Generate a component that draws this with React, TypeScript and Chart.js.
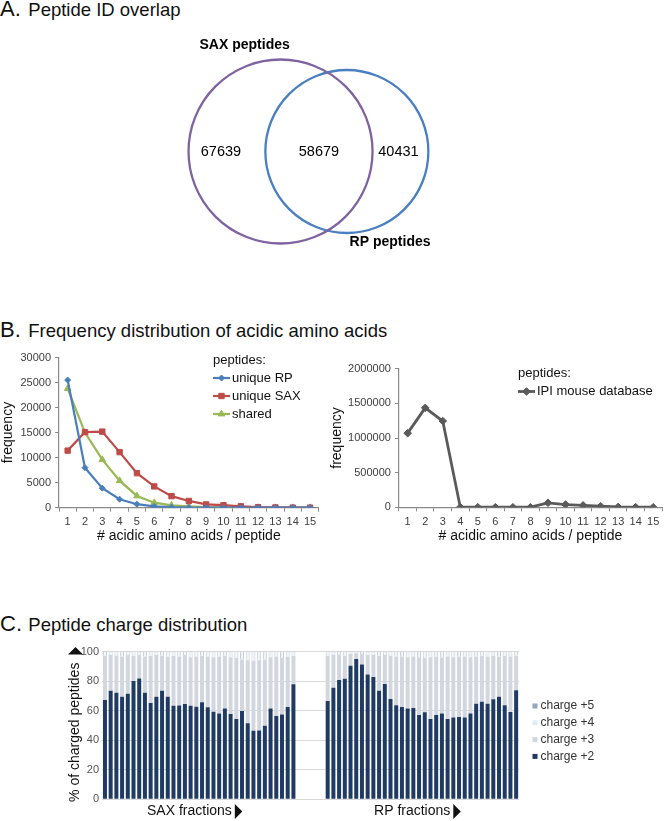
import React, { useEffect, useRef } from "react";
import { Chart, registerables } from "chart.js";

Chart.register(...registerables);

const FONT = '"Liberation Sans", Arial, Helvetica, sans-serif';

// ---------------- A. Peptide ID overlap (Venn) ----------------
const vennSetNames = ["SAX peptides", "RP peptides"];
const saxOnlyCount = 67639;
const sharedCount = 58679;
const rpOnlyCount = 40431;

// ---------------- B. Frequency distribution ----------------
const acidicCategories = ["1", "2", "3", "4", "5", "6", "7", "8", "9", "10", "11", "12", "13", "14", "15"];
const uniqueRP = [25500, 8000, 3900, 1700, 700, 250, 100, 40, 15, 5, 2, 1, 0, 0, 0];
const uniqueSAX = [11400, 15100, 15200, 11100, 6900, 4250, 2300, 1350, 650, 500, 280, 100, 50, 20, 10];
const sharedPeps = [23800, 15000, 9600, 5400, 2350, 1000, 480, 250, 120, 60, 30, 15, 5, 2, 1];
const ipiMouseDb = [1070000, 1435000, 1245000, 2000, 1500, 1000, 1000, 1500, 65000, 40000, 28000, 16000, 5000, 2000, 1000];
const leftFreqTicks = [0, 5000, 10000, 15000, 20000, 25000, 30000];
const rightFreqTicks = [0, 500000, 1000000, 1500000, 2000000];

// ---------------- C. Peptide charge distribution ----------------
const saxCharge2 = [67.2, 73.5, 72.2, 69.5, 71.5, 80.1, 81.9, 72.2, 65.2, 69.5, 73.5, 69.5, 63.4, 63.6, 64.5, 63.4, 62.7, 65.7, 62.3, 59.3, 58.2, 61.6, 57.8, 54.4, 59.8, 51.5, 46.4, 46.6, 49.8, 61.6, 56.4, 57.5, 62.5, 77.9];
const saxCharge3 = [30.1, 24.3, 25.1, 27.3, 26.3, 17.2, 15.9, 24.6, 32.1, 28.3, 23.8, 27.3, 33.9, 33.2, 33.3, 32.8, 34.1, 31.6, 34.5, 36.9, 38.6, 35.7, 38.4, 41.3, 34.9, 42.7, 47.3, 47.6, 44.9, 34.7, 40.4, 38.2, 34.3, 19.4];
const saxCharge4 = [2.5, 2.0, 2.5, 3.0, 2.0, 2.5, 2.0, 3.0, 2.5, 2.0, 2.5, 3.0, 2.5, 3.0, 2.0, 3.5, 3.0, 2.5, 3.0, 3.5, 3.0, 2.5, 3.5, 4.0, 5.0, 5.5, 6.0, 5.5, 5.0, 3.5, 3.0, 4.0, 3.0, 2.5];
const saxCharge5 = [0.2, 0.2, 0.2, 0.2, 0.2, 0.2, 0.2, 0.2, 0.2, 0.2, 0.2, 0.2, 0.2, 0.2, 0.2, 0.3, 0.2, 0.2, 0.2, 0.3, 0.2, 0.2, 0.3, 0.3, 0.3, 0.3, 0.3, 0.3, 0.3, 0.2, 0.2, 0.3, 0.2, 0.2];

const rpCharge2 = [66.6, 75.6, 80.8, 81.7, 90.5, 95.0, 91.4, 84.6, 82.8, 73.5, 78.1, 67.9, 63.8, 62.5, 61.6, 61.8, 57.1, 58.9, 54.4, 57.1, 58.2, 54.4, 55.5, 55.7, 55.5, 58.2, 64.7, 66.1, 64.7, 67.7, 69.5, 63.8, 59.1, 73.8];
const rpCharge3 = [30.7, 22.2, 17.0, 15.6, 7.9, 3.9, 7.0, 13.2, 15.0, 23.8, 19.7, 29.4, 33.0, 34.3, 34.7, 35.0, 39.2, 36.9, 41.9, 39.7, 38.1, 42.4, 40.8, 41.1, 41.3, 38.1, 32.1, 31.2, 32.1, 29.6, 27.3, 33.5, 37.7, 23.5];
const rpCharge4 = [2.5, 2.0, 2.0, 2.5, 1.5, 1.0, 1.5, 2.0, 2.0, 2.5, 2.0, 2.5, 3.0, 3.0, 3.5, 3.0, 3.5, 4.0, 3.5, 3.0, 3.5, 3.0, 3.5, 3.0, 3.0, 3.5, 3.0, 2.5, 3.0, 2.5, 3.0, 2.5, 3.0, 2.5];
const rpCharge5 = [0.2, 0.2, 0.2, 0.2, 0.1, 0.1, 0.1, 0.2, 0.2, 0.2, 0.2, 0.2, 0.2, 0.2, 0.2, 0.2, 0.2, 0.2, 0.2, 0.2, 0.2, 0.2, 0.2, 0.2, 0.2, 0.2, 0.2, 0.2, 0.2, 0.2, 0.2, 0.2, 0.2, 0.2];

const percentTickLabels = [0, 20, 40, 60, 80, 100];
const percentGridStep = 10;
const chargeLabels = ["charge +2", "charge +3", "charge +4", "charge +5"];
const groupNames = ["SAX fractions", "RP fractions"];
const GAP_SLOTS = 5;

// ---------------- styles ----------------
const COLORS = {
  sax: "#7f63a1",
  rp: "#4a7fc1",
  blue: "#4a7ebb",
  red: "#be4b48",
  green: "#98b954",
  gray: "#5a5a5a",
  axis: "#8a8a8a",
  tick: "#404040",
  c2: "#1f3b63",
  c3: "#d2d7df",
  c4: "#f1f5fa",
  c4border: "#c6cdd8",
  c5: "#b3c0d4",
};

function drawMarker(ctx: CanvasRenderingContext2D, style: string, x: number, y: number, r: number, color: string) {
  ctx.fillStyle = color;
  ctx.strokeStyle = color;
  ctx.lineWidth = 1;
  ctx.beginPath();
  if (style === "rect") {
    const s = r * Math.SQRT1_2;
    ctx.rect(x - s, y - s, 2 * s, 2 * s);
  } else if (style === "triangle") {
    for (let k = 0; k < 3; k++) {
      const a = (k * 2 * Math.PI) / 3;
      const px = x + Math.sin(a) * r;
      const py = y - Math.cos(a) * r;
      if (k === 0) ctx.moveTo(px, py);
      else ctx.lineTo(px, py);
    }
    ctx.closePath();
  } else {
    ctx.moveTo(x, y - r);
    ctx.lineTo(x + r, y);
    ctx.lineTo(x, y + r);
    ctx.lineTo(x - r, y);
    ctx.closePath();
  }
  ctx.fill();
  ctx.stroke();
}

// ---------- Venn geometry from data ----------
function overlapArea(r1: number, r2: number, d: number) {
  if (d >= r1 + r2) return 0;
  if (d <= Math.abs(r1 - r2)) return Math.PI * Math.min(r1, r2) ** 2;
  const a1 = Math.acos((d * d + r1 * r1 - r2 * r2) / (2 * d * r1));
  const a2 = Math.acos((d * d + r2 * r2 - r1 * r1) / (2 * d * r2));
  const k = Math.sqrt((-d + r1 + r2) * (d + r1 - r2) * (d - r1 + r2) * (d + r1 + r2));
  return r1 * r1 * a1 + r2 * r2 * a2 - 0.5 * k;
}

const VENN_PX_PER_SQRT = 0.2589; // radius scale
function vennLayout(cx: number, cy: number) {
  const nSax = saxOnlyCount + sharedCount;
  const nRp = rpOnlyCount + sharedCount;
  const r1 = VENN_PX_PER_SQRT * Math.sqrt(nSax);
  const r2 = VENN_PX_PER_SQRT * Math.sqrt(nRp);
  const target = Math.PI * VENN_PX_PER_SQRT * VENN_PX_PER_SQRT * sharedCount;
  let lo = Math.abs(r1 - r2);
  let hi = r1 + r2;
  for (let i = 0; i < 60; i++) {
    const mid = (lo + hi) / 2;
    if (overlapArea(r1, r2, mid) > target) lo = mid;
    else hi = mid;
  }
  const d = (lo + hi) / 2;
  return [
    { x: cx - d / 2, y: cy, r: r1 },
    { x: cx + d / 2, y: cy, r: r2 },
  ];
}

function useChart(ref: React.RefObject<HTMLCanvasElement | null>, make: () => any) {
  useEffect(() => {
    if (!ref.current) return;
    const chart = new Chart(ref.current, make());
    return () => chart.destroy();
  }, []);
}

// ---------------- Venn ----------------
const VENN_W = 664;
const VENN_H = 240;
function VennChart() {
  const ref = useRef<HTMLCanvasElement>(null);
  useChart(ref, () => {
    const [sax, rp] = vennLayout(313.7, 126.5);
    return {
      type: "bubble",
      data: {
        datasets: [
          { label: vennSetNames[0], data: [sax], borderColor: COLORS.sax, backgroundColor: "rgba(0,0,0,0)", borderWidth: 2.3 },
          { label: vennSetNames[1], data: [rp], borderColor: COLORS.rp, backgroundColor: "rgba(0,0,0,0)", borderWidth: 2.3 },
        ],
      },
      options: {
        responsive: false,
        animation: false,
        events: [],
        layout: { padding: 0, autoPadding: false },
        scales: {
          x: { type: "linear", min: 0, max: VENN_W, display: false },
          y: { type: "linear", min: 0, max: VENN_H, reverse: true, display: false },
        },
        plugins: { legend: { display: false }, tooltip: { enabled: false } },
      },
      plugins: [
        {
          id: "vennText",
          afterDraw(chart: any) {
            const ctx = chart.ctx as CanvasRenderingContext2D;
            const a = chart.getDatasetMeta(0).data[0];
            const b = chart.getDatasetMeta(1).data[0];
            const ra = a.options.radius;
            const rb = b.options.radius;
            ctx.save();
            ctx.fillStyle = "#000";
            ctx.textAlign = "center";
            ctx.textBaseline = "middle";
            ctx.font = `14.5px ${FONT}`;
            const cy = (a.y + b.y) / 2;
            ctx.fillText(String(saxOnlyCount), (a.x - ra + (b.x - rb)) / 2 - 6, cy);
            ctx.fillText(String(sharedCount), (b.x - rb + (a.x + ra)) / 2, cy);
            ctx.fillText(String(rpOnlyCount), (a.x + ra + (b.x + rb)) / 2 - 2, cy);
            ctx.font = `bold 14px ${FONT}`;
            ctx.fillText(chart.data.datasets[0].label, a.x - 0.39 * ra, a.y - ra - 14.5);
            ctx.fillText(chart.data.datasets[1].label, b.x + 0.53 * rb, b.y + rb + 9);
            ctx.restore();
          },
        },
      ],
    };
  });
  return (
    <canvas
      ref={ref}
      width={VENN_W}
      height={VENN_H}
      style={{ position: "absolute", left: 0, top: 25, width: VENN_W, height: VENN_H }}
    />
  );
}

// ---------------- B charts ----------------
function lineDs(label: string, data: number[], color: string, pointStyle: string, radius: number, width: number) {
  return {
    label,
    data,
    borderColor: color,
    backgroundColor: color,
    pointBackgroundColor: color,
    pointBorderColor: color,
    pointBorderWidth: 1,
    pointStyle,
    pointRadius: radius,
    borderWidth: width,
    tension: 0,
    fill: false,
  };
}

function legendPlugin(id: string, title: string, x: number, y: number, rowGap: number) {
  return {
    id,
    afterDraw(chart: any) {
      const ctx = chart.ctx as CanvasRenderingContext2D;
      ctx.save();
      ctx.font = `13px ${FONT}`;
      ctx.textBaseline = "middle";
      ctx.textAlign = "left";
      ctx.fillStyle = "#111";
      ctx.fillText(title, x, y);
      chart.data.datasets.forEach((ds: any, i: number) => {
        const yy = y + (i + 1) * rowGap;
        ctx.strokeStyle = ds.borderColor;
        ctx.lineWidth = ds.borderWidth;
        ctx.beginPath();
        ctx.moveTo(x, yy);
        ctx.lineTo(x + 17, yy);
        ctx.stroke();
        drawMarker(ctx, ds.pointStyle, x + 8.5, yy, ds.pointRadius, ds.pointBackgroundColor);
        ctx.fillStyle = "#111";
        ctx.fillText(ds.label, x + 19, yy);
      });
      ctx.restore();
    },
  };
}

function freqOptions(ticks: number[], yWidth: number, xHeight: number, padTop: number, padRight: number) {
  const tickFont = { family: FONT, size: 11 };
  const titleFont = { family: FONT, size: 14 };
  return {
    responsive: false,
    animation: false,
    events: [],
    layout: { padding: { top: padTop, right: padRight, left: 0, bottom: 0 }, autoPadding: false },
    plugins: { legend: { display: false }, tooltip: { enabled: false } },
    scales: {
      x: {
        type: "category",
        offset: true,
        grid: { display: true, offset: true, drawOnChartArea: false, drawTicks: true, tickLength: 4, color: COLORS.axis },
        border: { display: true, color: COLORS.axis, width: 1.2 },
        ticks: { font: tickFont, color: COLORS.tick, padding: 4, autoSkip: false, maxRotation: 0 },
        title: { display: true, text: "# acidic amino acids / peptide", font: titleFont, color: "#111", padding: 0 },
        afterFit: (s: any) => {
          s.height = xHeight;
        },
      },
      y: {
        type: "linear",
        min: ticks[0],
        max: ticks[ticks.length - 1],
        afterBuildTicks: (s: any) => {
          s.ticks = ticks.map((v) => ({ value: v }));
        },
        grid: { display: true, drawOnChartArea: false, drawTicks: true, tickLength: 4, color: COLORS.axis },
        border: { display: true, color: COLORS.axis, width: 1.2 },
        ticks: { font: tickFont, color: COLORS.tick, padding: 4, callback: (v: any) => String(v) },
        title: { display: true, text: "frequency", font: titleFont, color: "#111", padding: 0 },
        afterFit: (s: any) => {
          s.width = yWidth;
        },
      },
    },
  };
}

const B_TOP = 340;
const B_H = 205;
function FreqLeft() {
  const ref = useRef<HTMLCanvasElement>(null);
  useChart(ref, () => ({
    type: "line",
    data: {
      labels: acidicCategories,
      datasets: [
        lineDs("unique RP", uniqueRP, COLORS.blue, "rectRot", 3, 2.2),
        lineDs("unique SAX", uniqueSAX, COLORS.red, "rect", 3.8, 2.2),
        lineDs("shared", sharedPeps, COLORS.green, "triangle", 3.8, 2.2),
      ],
    },
    options: freqOptions(leftFreqTicks, 59, 545 - 507.7, 357.5 - B_TOP, 335 - 318.7),
    plugins: [legendPlugin("legL", "peptides:", 213, 20, 18)],
  }));
  return <canvas ref={ref} width={335} height={B_H} style={{ position: "absolute", left: 0, top: B_TOP, width: 335, height: B_H }} />;
}

function FreqRight() {
  const ref = useRef<HTMLCanvasElement>(null);
  useChart(ref, () => ({
    type: "line",
    data: {
      labels: acidicCategories,
      datasets: [lineDs("IPI mouse database", ipiMouseDb, COLORS.gray, "rectRot", 3.8, 2.8)],
    },
    options: freqOptions(rightFreqTicks, 398.9 - 329, 545 - 507.3, 368.7 - B_TOP, 2),
    plugins: [legendPlugin("legR", "peptides:", 189, 33.5, 18)],
  }));
  return <canvas ref={ref} width={335} height={B_H} style={{ position: "absolute", left: 329, top: B_TOP, width: 335, height: B_H }} />;
}

// ---------------- C chart ----------------
const C_TOP = 640;
const C_H = 181;
function ChargeChart() {
  const ref = useRef<HTMLCanvasElement>(null);
  useChart(ref, () => {
    const saxLabels = saxCharge2.map((_, i) => `SAX ${i + 1}`);
    const rpLabels = rpCharge2.map((_, i) => `RP ${i + 1}`);
    const gapLabels = Array.from({ length: GAP_SLOTS }, (_, i) => `gap ${i + 1}`);
    const gap = Array(GAP_SLOTS).fill(null);
    const series = (s: number[], r: number[]) => [...s, ...gap, ...r];
    const gridTicks: number[] = [];
    for (let v = percentTickLabels[0]; v <= percentTickLabels[percentTickLabels.length - 1]; v += percentGridStep) gridTicks.push(v);
    return {
      type: "bar",
      data: {
        labels: [...saxLabels, ...gapLabels, ...rpLabels],
        datasets: [
          { label: chargeLabels[0], data: series(saxCharge2, rpCharge2), backgroundColor: COLORS.c2, borderWidth: 0 },
          { label: chargeLabels[1], data: series(saxCharge3, rpCharge3), backgroundColor: COLORS.c3, borderWidth: 0 },
          {
            label: chargeLabels[2],
            data: series(saxCharge4, rpCharge4),
            backgroundColor: COLORS.c4,
            borderColor: COLORS.c4border,
            borderWidth: { left: 1, right: 1, top: 0, bottom: 0 },
            borderSkipped: false,
          },
          { label: chargeLabels[3], data: series(saxCharge5, rpCharge5), backgroundColor: COLORS.c5, borderWidth: 0 },
        ],
      },
      options: {
        responsive: false,
        animation: false,
        events: [],
        layout: { padding: { top: 651.7 - C_TOP, right: 664 - 519, bottom: C_TOP + C_H - 799.3, left: 0 }, autoPadding: false },
        datasets: { bar: { categoryPercentage: 1, barPercentage: 0.7 } },
        plugins: { legend: { display: false }, tooltip: { enabled: false } },
        scales: {
          x: { type: "category", stacked: true, display: false },
          y: {
            type: "linear",
            stacked: true,
            min: gridTicks[0],
            max: gridTicks[gridTicks.length - 1],
            afterBuildTicks: (s: any) => {
              s.ticks = gridTicks.map((v) => ({ value: v }));
            },
            ticks: {
              font: { family: FONT, size: 11 },
              color: "#555",
              padding: 3,
              callback: (v: any) => (percentTickLabels.includes(v) ? String(v) : ""),
            },
            grid: { color: "#d9d9d9", drawTicks: false, lineWidth: 1 },
            border: { display: false },
            afterFit: (s: any) => {
              s.width = 102.1;
            },
          },
        },
      },
      plugins: [
        {
          id: "chargeDecor",
          afterDraw(chart: any) {
            const ctx = chart.ctx as CanvasRenderingContext2D;
            const area = chart.chartArea;
            const xs = chart.scales.x;
            ctx.save();
            ctx.fillStyle = "#111";
            ctx.font = `14px ${FONT}`;
            ctx.textBaseline = "middle";
            // y title with arrow
            const tw = ctx.measureText("% of charged peptides").width;
            const tot = tw + 8 + 7.5;
            const cy = (area.top + area.bottom) / 2 - 1;
            const start = cy + tot / 2;
            const tx = 75.5;
            ctx.save();
            ctx.translate(tx, start - tw / 2);
            ctx.rotate(-Math.PI / 2);
            ctx.textAlign = "center";
            ctx.fillText("% of charged peptides", 0, 0);
            ctx.restore();
            const base = start - tw - 8;
            ctx.beginPath();
            ctx.moveTo(tx - 7.5, base);
            ctx.lineTo(tx + 7.5, base);
            ctx.lineTo(tx, base - 7.5);
            ctx.closePath();
            ctx.fill();
            // group labels
            const ranges = [
              [0, saxCharge2.length - 1],
              [saxCharge2.length + GAP_SLOTS, saxCharge2.length + GAP_SLOTS + rpCharge2.length - 1],
            ];
            const ly = 171.5;
            ranges.forEach(([i0, i1], g) => {
              const c = (xs.getPixelForValue(i0) + xs.getPixelForValue(i1)) / 2 - 4.5;
              const w = ctx.measureText(groupNames[g]).width;
              const total = w + 3 + 7.5;
              const left = c - total / 2;
              ctx.textAlign = "left";
              ctx.fillText(groupNames[g], left, ly);
              const bx = left + w + 3;
              ctx.beginPath();
              ctx.moveTo(bx, ly - 7.5);
              ctx.lineTo(bx, ly + 7.5);
              ctx.lineTo(bx + 7.5, ly);
              ctx.closePath();
              ctx.fill();
            });
            // legend
            ctx.font = `12px ${FONT}`;
            const dss = chart.data.datasets;
            for (let k = 0; k < dss.length; k++) {
              const ds = dss[dss.length - 1 - k];
              const yy = 66 + k * 16.8;
              ctx.fillStyle = ds.backgroundColor === COLORS.c4 ? "#e4ecf5" : ds.backgroundColor === COLORS.c5 ? "#93a6c4" : ds.backgroundColor;
              ctx.fillRect(532.5, yy - 2.5, 5, 5);
              ctx.fillStyle = "#333";
              ctx.textAlign = "left";
              ctx.fillText(ds.label, 540.5, yy);
            }
            ctx.restore();
          },
        },
      ],
    };
  });
  return <canvas ref={ref} width={664} height={C_H} style={{ position: "absolute", left: 0, top: C_TOP, width: 664, height: C_H }} />;
}

function SectionTitle({ letter, text, baseline }: { letter: string; text: string; baseline: number }) {
  return (
    <div
      style={{
        position: "absolute",
        left: 0,
        top: baseline - 18.62,
        fontFamily: FONT,
        fontSize: 22,
        lineHeight: "22px",
        whiteSpace: "nowrap",
        color: "#111",
      }}
    >
      <span style={{ display: "inline-block", width: 28.3 }}>{letter}</span>
      <span style={{ fontSize: 18.5 }}>{text}</span>
    </div>
  );
}

export default function App() {
  return (
    <div style={{ position: "absolute", left: 0, top: 0, width: 664, height: 821, background: "#fff", overflow: "hidden" }}>
      <SectionTitle letter="A." text="Peptide ID overlap" baseline={16.7} />
      <VennChart />
      <SectionTitle letter="B." text="Frequency distribution of acidic amino acids" baseline={338} />
      <FreqLeft />
      <FreqRight />
      <SectionTitle letter="C." text="Peptide charge distribution" baseline={632} />
      <ChargeChart />
    </div>
  );
}
